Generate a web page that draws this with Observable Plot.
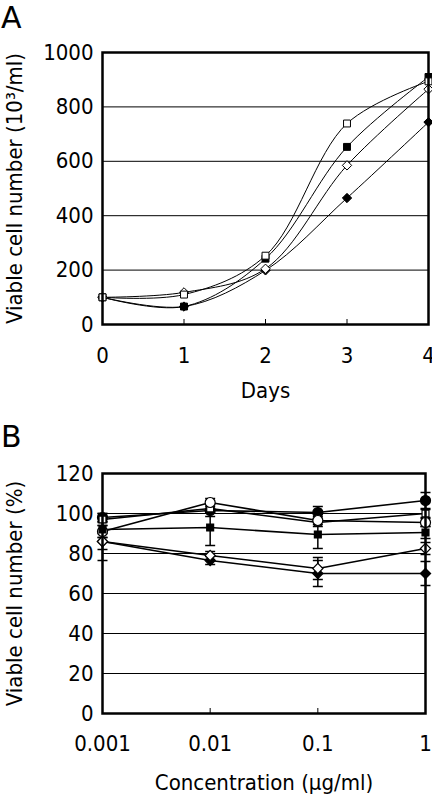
<!DOCTYPE html>
<html><head><meta charset="utf-8">
<script src="https://cdn.jsdelivr.net/npm/d3@7"></script>
<script src="https://cdn.jsdelivr.net/npm/@observablehq/plot@0.6"></script>
<style>
body{margin:0;background:#fff;width:432px;height:795px;overflow:hidden;position:relative;}
#a{position:absolute;left:0;top:0;}
#b{position:absolute;left:0;top:420px;}
.panel{position:absolute;left:1px;font-size:30px;font-family:"DejaVu Sans",sans-serif;line-height:1;color:#000;}
</style></head><body>
<div id="a"></div><div id="b"></div>
<div class="panel" style="top:3px">A</div>
<div class="panel" style="top:422px">B</div>
<script>
// ---------- Panel A data ----------
const days = [0, 1, 2, 3, 4];
const yTicksA = [0, 200, 400, 600, 800, 1000];
const openSquareA   = [100, 110, 253, 739, 894];
const filledSquareA = [100, 66, 242, 653, 910];
const openDiamondA  = [100, 118, 205, 585, 865];
const filledDiamondA= [100, 66, 199, 465, 744];

// ---------- Panel B data ----------
const conc = [0.001, 0.01, 0.1, 1];
const concLabels = ["0.001", "0.01", "0.1", "1"];
const yTicksB = [0, 20, 40, 60, 80, 100, 120];
const filledCircleB  = [98, 101.5, 100.5, 106.5];
const filledCircleE  = [2, 3, 3, 4];
const openSquareB    = [97, 102.5, 95.5, 100];
const openSquareE    = [3, 2, 2, 2];
const openCircleB    = [91, 105.5, 96.5, 95.5];
const openCircleE    = [3, 2, 2, 2];
const filledSquareB  = [92, 93, 89.5, 90.5];
const filledSquareE  = [4, 9, 7, 3];
const openDiamondB   = [86, 79, 72.5, 82.5];
const openDiamondE   = [4, 2, 5.5, 3];
const filledDiamondB = [86, 76.5, 70, 70];
const filledDiamondE = [9.5, 2, 6.5, 6];

const FONT = '"DejaVu Sans Condensed","DejaVu Sans",sans-serif';

// ---------- Panel A ----------
const seriesA = [
  {name: "filledDiamond", vals: filledDiamondA, symbol: "diamond2", fill: "black", r: 4.2},
  {name: "openDiamond", vals: openDiamondA, symbol: "diamond2", fill: "white", r: 4.2},
  {name: "filledSquare", vals: filledSquareA, symbol: "square", fill: "black", r: 3.9},
  {name: "openSquare", vals: openSquareA, symbol: "square", fill: "white", r: 3.9}
];
const rowsA = seriesA.flatMap(s => days.map((d, i) => ({series: s.name, day: d, v: s.vals[i]})));

const plotA = Plot.plot({
  width: 432, height: 400,
  marginTop: 52, marginBottom: 76, marginLeft: 102, marginRight: 4,
  style: {fontFamily: FONT, fontSize: "22px", background: "white", color: "black", overflow: "visible"},
  x: {domain: [0, 4]},
  y: {domain: [0, 1000]},
  marks: [
    Plot.gridY(yTicksA.filter(d => d > 0 && d < 1000), {stroke: "black", strokeOpacity: 1, strokeWidth: 1}),
    Plot.line(rowsA, {x: "day", y: "v", z: "series", curve: "catmull-rom", stroke: "black", strokeWidth: 1}),
    ...seriesA.map(s => Plot.dot(rowsA.filter(r => r.series === s.name), {x: "day", y: "v", symbol: () => s.symbol, r: s.r, fill: s.fill, stroke: "black", strokeWidth: 1})),
    Plot.axisY({ticks: yTicksA, tickSize: 0, tickPadding: 9, tickFormat: d => String(d), label: "Viable cell number (10³/ml)", labelAnchor: "center", labelOffset: 96, labelArrow: "none"}),
    Plot.axisX({ticks: days, tickSize: -5, tickPadding: 28, tickFormat: d => String(d), label: "Days", labelAnchor: "center", labelOffset: 73, labelArrow: "none"}),
    Plot.frame({stroke: "black", strokeWidth: 2.5})
  ]
});
document.getElementById("a").append(plotA);

// ---------- Panel B ----------
const seriesB = [
  {name: "filledCircle", vals: filledCircleB, err: filledCircleE, symbol: "circle", fill: "black", r: 5},
  {name: "openSquare", vals: openSquareB, err: openSquareE, symbol: "square", fill: "white", r: 3.9},
  {name: "openCircle", vals: openCircleB, err: openCircleE, symbol: "circle", fill: "white", r: 5},
  {name: "filledSquare", vals: filledSquareB, err: filledSquareE, symbol: "square", fill: "black", r: 3.9},
  {name: "filledDiamond", vals: filledDiamondB, err: filledDiamondE, symbol: "diamond2", fill: "black", r: 4.6},
  {name: "openDiamond", vals: openDiamondB, err: openDiamondE, symbol: "diamond2", fill: "white", r: 4.6}
];
const rowsB = seriesB.flatMap(s => conc.map((c, i) => ({series: s.name, c, v: s.vals[i], lo: s.vals[i] - s.err[i], hi: s.vals[i] + s.err[i]})));

const capSymbol = {
  draw(context, size) {
    const w = Math.sqrt(size / Math.PI);
    context.moveTo(-w, 0);
    context.lineTo(w, 0);
  }
};

const plotB = Plot.plot({
  width: 432, height: 375,
  marginTop: 53, marginBottom: 82, marginLeft: 102, marginRight: 7,
  style: {fontFamily: FONT, fontSize: "22px", background: "white", color: "black", overflow: "visible"},
  x: {type: "log", domain: [0.001, 1]},
  y: {domain: [0, 120]},
  marks: [
    Plot.gridY(yTicksB.filter(d => d > 0 && d < 120), {stroke: "black", strokeOpacity: 1, strokeWidth: 1}),
    Plot.line(rowsB, {x: "c", y: "v", z: "series", stroke: "black", strokeWidth: 1.6}),
    Plot.ruleX(rowsB, {x: "c", y1: "lo", y2: "hi", stroke: "black", strokeWidth: 1.5}),
    Plot.dot(rowsB, {x: "c", y: "lo", symbol: capSymbol, r: 5, stroke: "black", strokeWidth: 1.5, fill: "none"}),
    Plot.dot(rowsB, {x: "c", y: "hi", symbol: capSymbol, r: 5, stroke: "black", strokeWidth: 1.5, fill: "none"}),
    ...seriesB.map(s => Plot.dot(rowsB.filter(r => r.series === s.name), {x: "c", y: "v", symbol: () => s.symbol, r: s.r, fill: s.fill, stroke: "black", strokeWidth: 1.2})),
    Plot.axisY({ticks: yTicksB, tickSize: 0, tickPadding: 9, tickFormat: d => String(d), label: "Viable cell number (%)", labelAnchor: "center", labelOffset: 96, labelArrow: "none"}),
    Plot.axisX({ticks: conc, tickSize: -5, tickPadding: 27, tickFormat: d => concLabels[conc.indexOf(d)], label: "Concentration (μg/ml)", labelAnchor: "center", labelOffset: 76, labelArrow: "none"}),
    Plot.frame({stroke: "black", strokeWidth: 2.5})
  ]
});
document.getElementById("b").append(plotB);
</script>
</body></html>
